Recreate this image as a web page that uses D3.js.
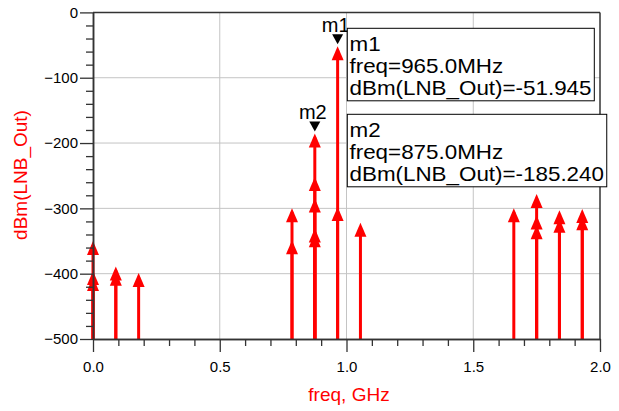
<!DOCTYPE html>
<html>
<head>
<meta charset="utf-8">
<script src="https://cdn.jsdelivr.net/npm/d3@7"></script>
<style>
  html, body { margin: 0; padding: 0; background: #fff; }
  svg { display: block; font-family: Arial, "Liberation Sans", sans-serif; }
</style>
</head>
<body>
<svg id="chart" width="619" height="411"></svg>
<script>
// ---- data ----
const freqGHz = [0, 0.09, 0.18, 0.785, 0.875, 0.965, 1.055, 1.66, 1.75, 1.84, 1.93];
const toneA = [-350, -389, -399, -300, -185.24, -51.945, -322, -300, -278, -303, -301];
const toneB = [-396, -397, null, -349, -252, -298, null, null, -311, -316, -312];
const toneC = [-405, null, null, null, -285, null, null, null, -326, null, null];
const toneD = [null, null, null, null, -331, null, null, null, null, null, null];
const toneE = [null, null, null, null, -338, null, null, null, null, null, null];
const yTicks = [-500, -400, -300, -200, -100, 0];
const xTicks = [0, 0.5, 1.0, 1.5, 2.0];
const markerNames = ["m1", "m2"];
const markerFreq = [0.965, 0.875];
const markerVal = [-51.945, -185.24];

// ---- chart ----
const svg = d3.select("#chart");
const x = d3.scaleLinear().domain([0, 2]).range([93, 600]);
const y = d3.scaleLinear().domain([-500, 0]).range([339, 12.4]);
const red = "#ff0000";
const axisCol = "#333";

// grid
const grid = svg.append("g");
grid.selectAll("line.gx").data(xTicks.filter(d => d > 0 && d < 2)).join("line")
  .attr("x1", d => x(d)).attr("x2", d => x(d)).attr("y1", y(0)).attr("y2", y(-500))
  .attr("stroke", "#c4c4c4").attr("stroke-width", 1);
grid.selectAll("line.gy").data(yTicks.filter(d => d > -500 && d < 0)).join("line")
  .attr("x1", x(0)).attr("x2", x(2)).attr("y1", d => y(d)).attr("y2", d => y(d))
  .attr("stroke", "#c4c4c4").attr("stroke-width", 1);

// frame top/right
svg.append("line").attr("x1", x(0)).attr("x2", x(2)).attr("y1", y(0)).attr("y2", y(0))
  .attr("stroke", axisCol).attr("stroke-width", 1.5);
svg.append("line").attr("x1", x(2)).attr("x2", x(2)).attr("y1", y(0)).attr("y2", y(-500))
  .attr("stroke", axisCol).attr("stroke-width", 1.5);

// points
const series = [toneA, toneB, toneC, toneD, toneE];
const pts = [];
series.forEach(s => s.forEach((v, i) => { if (v !== null) pts.push({f: freqGHz[i], v}); }));

const marks = svg.append("g");
marks.selectAll("line.stem").data(pts).join("line")
  .attr("x1", d => x(d.f)).attr("x2", d => x(d.f))
  .attr("y1", y(-500)).attr("y2", d => y(d.v) + 4)
  .attr("stroke", red).attr("stroke-width", 3);
const aw = 6, ah = 14;
marks.selectAll("path.arrow").data(pts).join("path")
  .attr("d", d => {
    const cx = x(d.f), cy = y(d.v);
    return `M${cx},${cy} L${cx - aw},${cy + ah} L${cx + aw},${cy + ah} Z`;
  })
  .attr("fill", red);

// axes
const yAxis = svg.append("g").attr("transform", `translate(${x(0)},0)`)
  .call(d3.axisLeft(y).tickValues(yTicks).tickSize(13).tickSizeOuter(0).tickPadding(2).tickFormat(d3.format("d")));
const yMinor = svg.append("g").attr("transform", `translate(${x(0)},0)`)
  .call(d3.axisLeft(y).tickValues(d3.range(-480, 0, 20).filter(d => d % 100 !== 0)).tickSize(7).tickSizeOuter(0).tickFormat(""));
const xAxis = svg.append("g").attr("transform", `translate(0,${y(-500)})`)
  .call(d3.axisBottom(x).tickValues(xTicks).tickSize(13).tickSizeOuter(0).tickPadding(9).tickFormat(d3.format(".1f")));
const xMinor = svg.append("g").attr("transform", `translate(0,${y(-500)})`)
  .call(d3.axisBottom(x).tickValues(d3.range(1, 20).map(d => d / 10).filter(d => Math.abs(d * 2 - Math.round(d * 2)) > 1e-6)).tickSize(7).tickSizeOuter(0).tickFormat(""));
[yAxis, yMinor, xAxis, xMinor].forEach(g => {
  g.selectAll("path.domain").attr("stroke", axisCol).attr("stroke-width", 1.5);
  g.selectAll(".tick line").attr("stroke", axisCol).attr("stroke-width", 1.3);
  g.selectAll(".tick text").attr("fill", "#000").style("font-size", "15px")
    .style("font-family", "Arial, 'Liberation Sans', sans-serif");
});

// axis titles
svg.append("text").attr("x", 349).attr("y", 401).attr("text-anchor", "middle")
  .attr("fill", red).style("font-size", "19px").text("freq, GHz");
svg.append("text").attr("transform", "translate(27,175) rotate(-90)").attr("text-anchor", "middle")
  .attr("fill", red).style("font-size", "19px").text("dBm(LNB_Out)");

// markers
markerNames.forEach((name, i) => {
  const cx = x(markerFreq[i]), cy = y(markerVal[i]);
  svg.append("path")
    .attr("d", `M${cx},${cy - 2} L${cx - 5.5},${cy - 12} L${cx + 5.5},${cy - 12} Z`)
    .attr("fill", "#000");
  svg.append("text").attr("x", cx - 2).attr("y", cy - 14.5).attr("text-anchor", "middle")
    .attr("fill", "#000").style("font-size", "20px").text(name);
});

// marker readout boxes
const boxTop = [28.3, 114.3];
markerNames.forEach((name, i) => {
  const g = svg.append("g");
  const rect = g.append("rect").attr("x", 347.3).attr("y", boxTop[i]).attr("height", 72.5)
    .attr("fill", "#fff").attr("stroke", "#000").attr("stroke-width", 1);
  const lines = [name, `freq=${(markerFreq[i] * 1000).toFixed(1)}MHz`, `dBm(LNB_Out)=${markerVal[i].toFixed(3)}`];
  let maxW = 0;
  lines.forEach((t, k) => {
    const tx = g.append("text")
      .attr("transform", `translate(349.5,${boxTop[i] + 22.5 + k * 22.3}) scale(1.12,1)`)
      .attr("fill", "#000").style("font-size", "20px").text(t);
    maxW = Math.max(maxW, tx.node().getBBox().width * 1.12);
  });
  rect.attr("width", maxW + 5);
});
</script>
</body>
</html>
